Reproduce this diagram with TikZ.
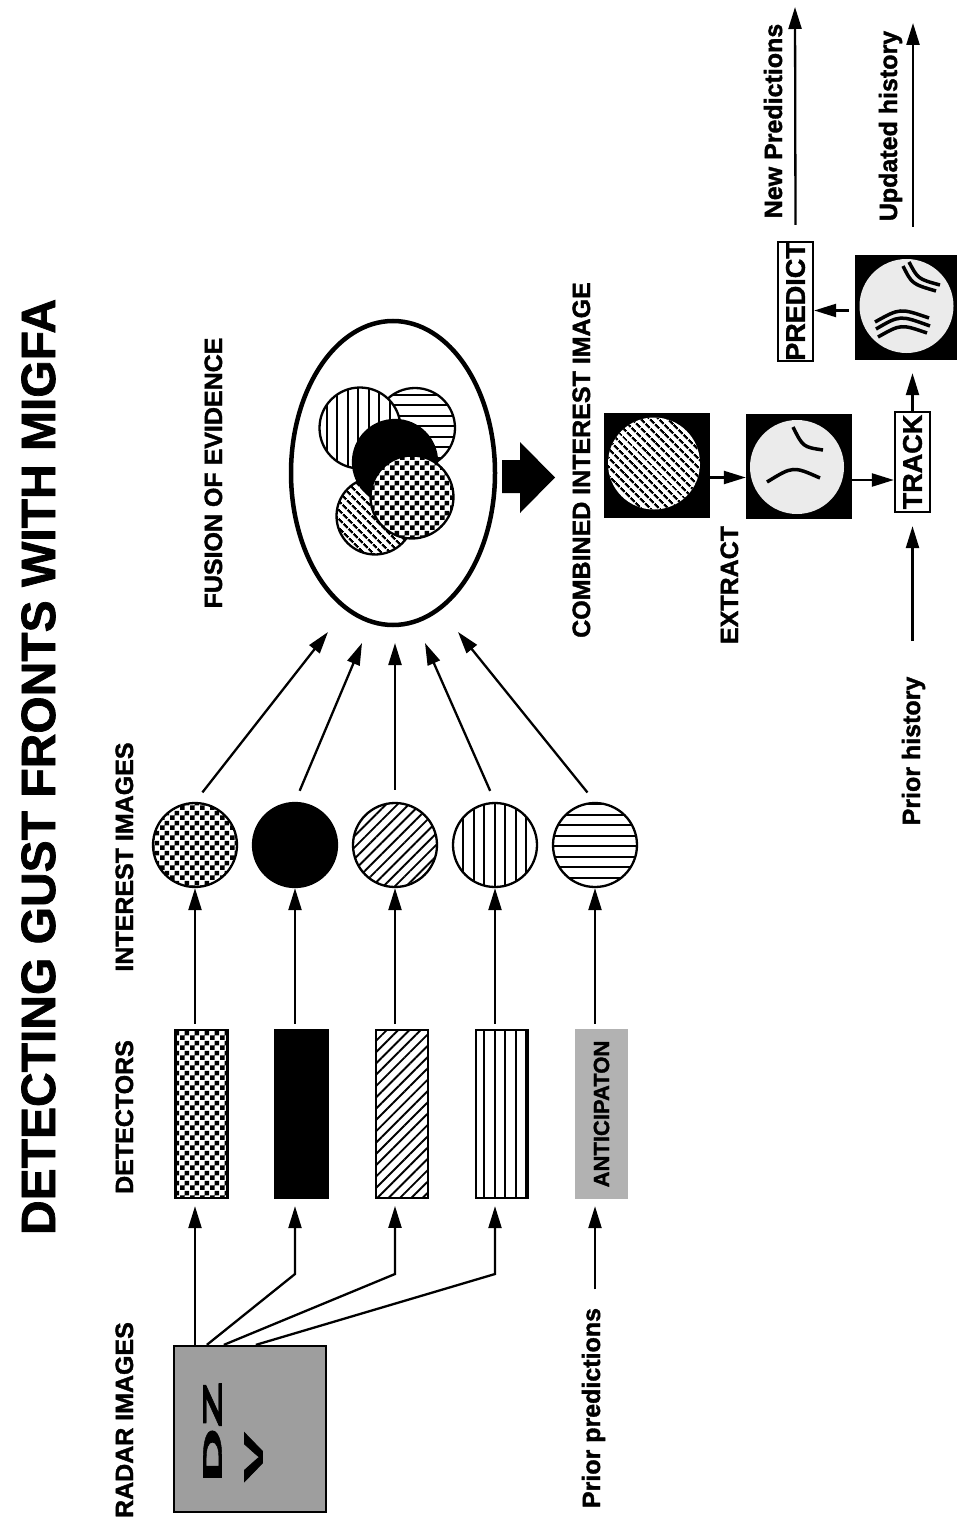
\documentclass[tikz,border=0pt]{standalone}
\usepackage{graphicx}
\usepackage{fontspec}
\setmainfont{Liberation Sans}[BoldFeatures={FakeBold=1.5}]
\usetikzlibrary{arrows.meta,patterns,patterns.meta,shapes.geometric}

\pgfdeclarepatternformonly{checker}{\pgfqpoint{0pt}{0pt}}{\pgfqpoint{10pt}{10pt}}{\pgfqpoint{10pt}{10pt}}{%
  \pgfpathrectangle{\pgfqpoint{0pt}{0pt}}{\pgfqpoint{5pt}{5pt}}%
  \pgfpathrectangle{\pgfqpoint{5pt}{5pt}}{\pgfqpoint{5pt}{5pt}}%
  \pgfusepath{fill}}
\pgfdeclarepatternformonly{vstripes}{\pgfqpoint{-1pt}{-1pt}}{\pgfqpoint{11.5pt}{11.5pt}}{\pgfqpoint{10.5pt}{10.5pt}}{%
  \pgfpathrectangle{\pgfqpoint{0pt}{-1pt}}{\pgfqpoint{2pt}{12.5pt}}%
  \pgfusepath{fill}}
\pgfdeclarepatternformonly{hstripes}{\pgfqpoint{-1pt}{-1pt}}{\pgfqpoint{11.5pt}{11.5pt}}{\pgfqpoint{10.5pt}{10.5pt}}{%
  \pgfpathrectangle{\pgfqpoint{-1pt}{0pt}}{\pgfqpoint{12.5pt}{2pt}}%
  \pgfusepath{fill}}

\tikzset{
  lbl/.style={rotate=90, anchor=base, font=\fontsize{25}{30}\selectfont\bfseries},
  arr/.style={line width=2.3pt, -{Triangle[length=22pt,width=13pt]}},
  detbox/.style={draw, line width=2.3pt, minimum width=52pt, minimum height=168pt, inner sep=0pt},
  disc/.style={circle, draw, line width=2.3pt, minimum size=84pt, inner sep=0pt},
  chk/.style={pattern=checker},
  vlines/.style={pattern=vstripes},
  hlines/.style={pattern=hstripes},
  nelines/.style={pattern={Lines[angle=45,distance=8pt,line width=1.9pt]}},
  nwlines/.style={pattern={Lines[angle=-45,distance=6.5pt,line width=2.4pt]}},
  imgbox/.style={fill=black, minimum width=106pt, minimum height=105pt, inner sep=0pt},
  blank/.style={circle, minimum size=94pt, inner sep=0pt, fill=black!8},
  tagbox/.style={draw, line width=2.3pt, rotate=90, inner sep=0pt, minimum height=35pt,
    font=\fontsize{27}{30}\selectfont\bfseries},
  front/.style={line width=3.5pt},
}

\begin{document}
\begin{tikzpicture}[x=1pt, y=-1pt]
    \useasboundingbox (0,0) rectangle (957,1530);

    % Title
    \node[rotate=90, anchor=base, font=\fontsize{48}{56}\selectfont\bfseries] (title) at (55,767) {DETECTING GUST FRONTS WITH MIGFA};

    % Column labels
    \node[lbl] (radlbl) at (133,1420) {RADAR IMAGES};
    \node[lbl] (detlbl) at (133,1117) {DETECTORS};
    \node[lbl] (intlbl) at (133,857) {INTEREST IMAGES};
    \node[lbl] (fuslbl) at (222,473) {FUSION OF EVIDENCE};

    % Radar images
    \node[draw, line width=2.3pt, fill=black!38, minimum width=152pt, minimum height=166pt, inner sep=0pt] (radar) at (250,1429) {};
    \node[rotate=90, align=left, inner sep=0pt, font=\fontsize{27}{41}\selectfont\bfseries] (dzv) at (233,1432) {\scalebox{2.8}[1]{DZ}\\\scalebox{2.8}[1]{V}};

    % Detectors
    \node[detbox, chk] (d1) at (201.5,1114) {};
    \node[detbox, fill=black] (d2) at (301.5,1114) {};
    \node[detbox, nelines] (d3) at (402,1114) {};
    \node[detbox, vlines] (d4) at (502,1114) {};
    \node[rotate=90, fill=black!30, minimum width=170pt, minimum height=53pt, inner sep=0pt,
      font=\fontsize{22}{26}\selectfont\bfseries] (anti) at (601.5,1114) {ANTICIPATON};

    % Interest images
    \node[disc, chk] (ii1) at (195,845) {};
    \node[disc, fill=black] (ii2) at (295,845) {};
    \node[disc, nelines] (ii3) at (395,845) {};
    \node[disc, vlines] (ii4) at (495,845) {};
    \node[disc, hlines] (ii5) at (595,845) {};

    % Radar images to detectors
    \coordinate (k2) at (295,1274);
    \coordinate (k3) at (395,1274);
    \coordinate (k4) at (495,1274);
    \draw[arr, shorten >=7pt] (radar.north -| ii1.south) -- (ii1.south |- d1.south);
    \draw[arr, shorten >=7pt] ([xshift=34pt]radar.north west) -- (k2) -- (k2 |- d2.south);
    \draw[arr, shorten >=7pt] ([xshift=51pt]radar.north west) -- (k3) -- (k3 |- d3.south);
    \draw[arr, shorten >=7pt] ([xshift=83pt]radar.north west) -- (k4) -- (k4 |- d4.south);

    % Prior predictions
    \node[lbl] (ppred) at (600,1408) {Prior predictions};
    \draw[arr, shorten >=7pt] ([yshift=15pt]ppred.east -| ii5.south) -- (ii5.south |- anti.west);

    % Detectors to interest images
    \draw[arr, shorten <=5pt] (ii1.south |- d1.north) -- (ii1.south);
    \draw[arr, shorten <=5pt] (ii2.south |- d2.north) -- (ii2.south);
    \draw[arr, shorten <=5pt] (ii3.south |- d3.north) -- (ii3.south);
    \draw[arr, shorten <=5pt] (ii4.south |- d4.north) -- (ii4.south);
    \draw[arr, shorten <=5pt] (ii5.south |- anti.east) -- (ii5.south);

    % Fusion of evidence
    \node[ellipse, draw, line width=4.5pt, minimum width=204pt, minimum height=304pt, inner sep=0pt] (fus) at (393,473) {};
    \node[disc, minimum size=80pt, preaction={fill=white}, hlines] (fh) at (415,428) {};
    \node[disc, minimum size=81pt, preaction={fill=white}, vlines] (fv) at (360,428) {};
    \node[disc, minimum size=77pt, preaction={fill=white}, nwlines] (fd) at (375,516) {};
    \node[disc, minimum size=84pt, fill=black] (fb) at (395,462) {};
    \node[disc, minimum size=83pt, preaction={fill=white}, chk] (fc) at (412,497) {};

    % Interest images to fusion
    \coordinate (t1) at (328,632);
    \coordinate (t2) at (362,643);
    \coordinate (t3) at (395,643);
    \coordinate (t4) at (425,643);
    \coordinate (t5) at (458,632);
    \draw[arr, shorten <=12pt] (ii1.north) -- (t1);
    \draw[arr, shorten <=12pt] (ii2.north) -- (t2);
    \draw[arr, shorten <=12pt] (ii3.north) -- (t3);
    \draw[arr, shorten <=12pt] (ii4.north) -- (t4);
    \draw[arr, shorten <=12pt] (ii5.north) -- (t5);

    % Big arrow
    \fill (502,460) -- (520,460) -- (520,442) -- (555,477.5) -- (520,513) -- (520,493) -- (502,493) -- cycle;

    % Combined interest image
    \node[lbl] (comblbl) at (590,460) {COMBINED INTEREST IMAGE};
    \node[imgbox] (comb) at (656.5,465.5) {};
    \node[circle, minimum size=92pt, inner sep=0pt, fill=white, postaction={nwlines}] (combc) at (654,463.5) {};

    % Extract
    \node[lbl] (extlbl) at (738,585) {EXTRACT};
    \node[imgbox] (ext) at (799,466) {};
    \node[blank] (extc) at (797,467) {};
    \draw[front] (793,427) .. controls (803,447) .. (823,450);
    \draw[front] (767,482) .. controls (793,466) .. (820,478);
    \draw[arr] ([yshift=-12pt]comb.east) -- ([yshift=-12pt]comb.east -| ext.west);

    % Track
    \node[tagbox, minimum width=100pt] (track) at (912.5,462) {TRACK};
    \draw[arr] ([yshift=-14pt]ext.east) -- ([yshift=-14pt]ext.east -| track.north);
    \node[lbl] (phist) at (920,751) {Prior history};
    \draw[arr, shorten >=13pt] ([yshift=32pt]phist.east -| track.west) -- (track.west);

    % Tracked fronts
    \node[imgbox, minimum width=102pt] (trk) at (906,307.5) {};
    \node[blank] (trkc) at (906.5,306) {};
    \draw[front] (903,266) .. controls (912,284) .. (936,291);
    \draw[front] (909,262) .. controls (918,279) .. (940,285);
    \draw[front] (875,322) .. controls (900,308) .. (929,318);
    \draw[front] (876,329) .. controls (900,315) .. (930,326);
    \draw[front] (878,337) .. controls (901,324) .. (927,333);
    \draw[arr, shorten >=13pt] (track.east) -- (track.east |- trk.south);

    % Predict
    \node[tagbox, minimum width=119pt] (pred) at (795.5,301.5) {PREDICT};
    \draw[arr, shorten <=6pt] ([yshift=-3pt]trk.west) -- ([yshift=-3pt]trk.west -| pred.south);

    % Outputs
    \node[lbl] (newp) at (782,121) {New Predictions};
    \coordinate (newtip) at (795,7);
    \draw[arr] ([yshift=16pt]pred.east) -- (newtip);
    \node[lbl] (updh) at (897,126) {Updated history};
    \coordinate (updtip) at (913,23);
    \draw[arr] ([yshift=28pt]trk.north -| updtip) -- (updtip);
\end{tikzpicture}
\end{document}
